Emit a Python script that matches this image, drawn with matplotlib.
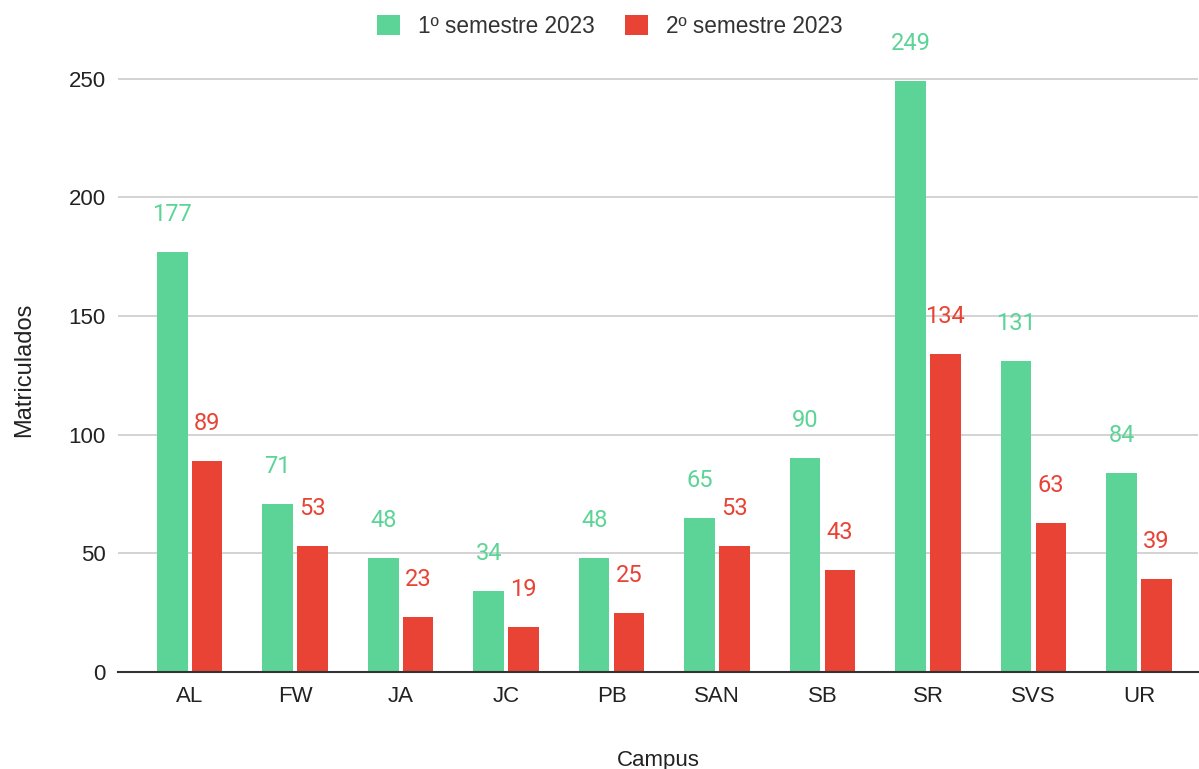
import matplotlib
matplotlib.use("Agg")
import matplotlib.pyplot as plt
import numpy as np

campus = ["AL", "FW", "JA", "JC", "PB", "SAN", "SB", "SR", "SVS", "UR"]
sem1 = [177, 71, 48, 34, 48, 65, 90, 249, 131, 84]
sem2 = [89, 53, 23, 19, 25, 53, 43, 134, 63, 39]
series_names = ["1º semestre 2023", "2º semestre 2023"]
colors = ["#5DD497", "#E84335"]

plt.rcParams['font.family'] = ['Liberation Sans', 'DejaVu Sans']

fig = plt.figure(figsize=(11.99, 7.69), dpi=100)
ax = fig.add_axes([118/1199, (769-672)/769, (1198-118)/1199, (672-67)/769])

x = np.arange(len(campus))
w = 0.29
off = 0.165
for vals, sgn, col, name in [(sem1, -1, colors[0], series_names[0]), (sem2, 1, colors[1], series_names[1])]:
    ax.bar(x + sgn*off, vals, width=w, color=col, label=name, zorder=3)
    for xi, v in zip(x, vals):
        ax.annotate(str(v), (xi + sgn*off, v), xytext=(0, 27), textcoords="offset points",
                    ha="center", va="center", fontsize=17, color=col, family="Roboto",
                    annotation_clip=False)

ax.set_xlim(-0.68, 9.56)
ax.set_ylim(0, 255)
ax.set_yticks([0, 50, 100, 150, 200, 250])
ax.yaxis.grid(True, color="#cccccc", linewidth=1.2, zorder=0)
ax.set_axisbelow(True)
for s in ["top", "right", "left"]:
    ax.spines[s].set_visible(False)
ax.spines["bottom"].set_color("#333333")
ax.spines["bottom"].set_linewidth(1.5)
ax.spines["bottom"].set_zorder(4)
ax.tick_params(axis="both", length=0, labelsize=16, colors="#222222")
ax.tick_params(axis="y", pad=9)
ax.tick_params(axis="x", pad=10)
ax.set_xticks(x)
ax.set_xticklabels(campus)
ax.set_ylabel("Matriculados", fontsize=17, color="#222222", labelpad=24)
ax.set_xlabel("Campus", fontsize=16, color="#222222", labelpad=31)

ax.legend(loc="center", bbox_to_anchor=(0.4556, 1 + 41/605), bbox_transform=ax.transAxes,
          ncol=2, frameon=False, fontsize=16.3, handlelength=1.0, handleheight=1.0,
          handletextpad=0.8, columnspacing=1.35, labelcolor="#333333")

fig.savefig("out.png", dpi=100)
